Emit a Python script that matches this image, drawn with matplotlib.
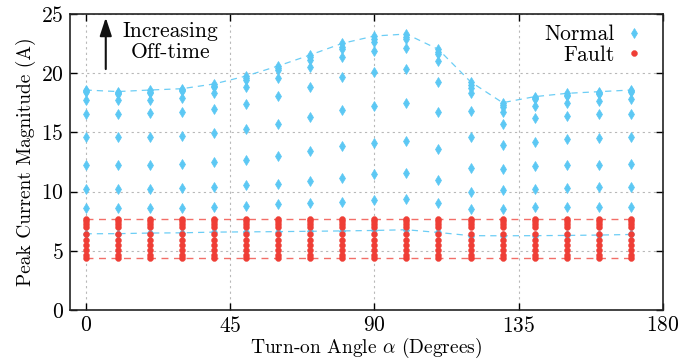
import matplotlib
matplotlib.use("Agg")
import matplotlib.pyplot as plt
import numpy as np

plt.rcParams['font.family'] = 'serif'
plt.rcParams['font.serif'] = ['cmr10']
plt.rcParams['mathtext.fontset'] = 'cm'
plt.rcParams['axes.formatter.use_mathtext'] = True

angles = [0, 10, 20, 30, 40, 50, 60, 70, 80, 90, 100, 110, 120, 130, 140, 150, 160, 170]

# Normal peak currents (A), one list per turn-on angle, increasing off-time
normal_0 = [18.58, 18.48, 18.41, 17.74, 16.55, 14.58, 12.28, 10.22, 8.59, 6.44]
normal_10 = [18.45, 18.35, 18.25, 17.70, 16.55, 14.58, 12.25, 10.22, 8.60, 6.45]
normal_20 = [18.58, 18.45, 18.30, 17.74, 16.60, 14.65, 12.28, 10.25, 8.60, 6.50]
normal_30 = [18.69, 18.60, 18.52, 17.93, 16.72, 14.70, 12.33, 10.30, 8.60, 6.52]
normal_40 = [19.09, 18.95, 18.81, 18.30, 17.00, 14.98, 12.47, 10.41, 8.67, 6.58]
normal_50 = [19.76, 19.60, 19.43, 18.81, 17.43, 15.26, 12.67, 10.53, 8.78, 6.60]
normal_60 = [20.61, 20.42, 20.27, 19.59, 18.07, 15.71, 13.03, 10.67, 8.92, 6.62]
normal_70 = [21.54, 21.34, 21.11, 20.55, 18.81, 16.33, 13.40, 10.92, 9.01, 6.65]
normal_80 = [22.52, 22.24, 22.01, 21.34, 19.65, 16.89, 13.85, 11.18, 9.15, 6.68]
normal_90 = [23.14, 22.86, 22.66, 21.90, 20.13, 17.26, 14.13, 11.46, 9.29, 6.72]
normal_100 = [23.31, 23.09, 22.86, 22.10, 20.35, 17.46, 14.30, 11.60, 9.40, 6.78]
normal_110 = [22.01, 21.82, 21.62, 21.03, 19.28, 16.75, 13.63, 11.01, 9.06, 6.55]
normal_120 = [19.28, 19.00, 18.72, 18.35, 16.81, 14.62, 12.00, 9.97, 8.50, 6.28]
normal_130 = [17.51, 17.31, 17.12, 16.75, 15.71, 13.94, 11.91, 10.11, 8.56, 6.27]
normal_140 = [18.02, 17.90, 17.82, 17.23, 16.19, 14.22, 12.13, 10.25, 8.67, 6.28]
normal_150 = [18.30, 18.20, 18.10, 17.51, 16.39, 14.42, 12.22, 10.33, 8.67, 6.30]
normal_160 = [18.44, 18.34, 18.24, 17.68, 16.55, 14.56, 12.28, 10.36, 8.72, 6.33]
normal_170 = [18.58, 18.48, 18.38, 17.79, 16.55, 14.58, 12.33, 10.42, 8.72, 6.38]

normal_values = [normal_0, normal_10, normal_20, normal_30, normal_40, normal_50,
                 normal_60, normal_70, normal_80, normal_90, normal_100, normal_110,
                 normal_120, normal_130, normal_140, normal_150, normal_160, normal_170]

# Fault peak currents (A), same at every angle
fault_levels = [7.68, 7.50, 7.30, 7.05, 6.45, 5.95, 5.50, 5.05, 4.65, 4.40]

xticks = [0, 45, 90, 135, 180]
yticks = [0, 5, 10, 15, 20, 25]

blue = '#5CC8F4'
red = '#EF3E36'

fig = plt.figure(figsize=(6.91, 3.62), dpi=100)
ax = fig.add_axes([0.1006, 0.1436, 0.8589, 0.8177])

# envelope lines
nmax = [max(v) for v in normal_values]
nmin = [min(v) for v in normal_values]
ax.plot(angles, nmax, ls=(0, (5, 4)), color=blue, lw=0.9, alpha=0.9, zorder=2)
ax.plot(angles, nmin, ls=(0, (5, 4)), color=blue, lw=0.9, alpha=0.9, zorder=2)
fmax = [max(fault_levels)] * len(angles)
fmin = [min(fault_levels)] * len(angles)
ax.plot(angles, fmax, ls=(0, (5, 4)), color=red, lw=1.0, alpha=0.75, zorder=2)
ax.plot(angles, fmin, ls=(0, (5, 4)), color=red, lw=1.0, alpha=0.75, zorder=2)

# points
for a, vals in zip(angles, normal_values):
    ax.plot([a] * len(vals), vals, ls='none', marker='d', ms=5.0, color=blue,
            mec=blue, mew=0.5, zorder=3)
for a in angles:
    ax.plot([a] * len(fault_levels), fault_levels, ls='none', marker='o', ms=4.3,
            color=red, mec=red, mew=0.3, zorder=4)

# legend handles
hn, = ax.plot([], [], ls='none', marker='d', ms=5.0, color=blue, mew=0.5, label='Normal')
hf, = ax.plot([], [], ls='none', marker='o', ms=4.3, color=red, mew=0.3, label='Fault')
leg = ax.legend(handles=[hn, hf], loc='upper right', bbox_to_anchor=(0.98, 1.0),
                frameon=False, markerfirst=False,
                fontsize=15.5, handlelength=0.6, handletextpad=0.6, labelspacing=0.05,
                borderaxespad=0.1)

ax.set_xlim(-5, 180)
ax.set_ylim(0, 25)
ax.set_xticks(xticks)
ax.set_yticks(yticks)
ax.grid(True, ls=(0, (2, 3)), color='#b8b8b8', lw=0.8)
ax.tick_params(direction='in', top=True, right=True, length=5, width=1, labelsize=15.5,
               pad=4)
for s in ax.spines.values():
    s.set_linewidth(1.2)
    s.set_color('#222222')

ax.set_xlabel(r'Turn-on Angle $\alpha$ (Degrees)', fontsize=14, labelpad=0)
ax.set_ylabel('Peak Current Magnitude (A)', fontsize=14, labelpad=4)

# annotation arrow and text
ax.annotate('', xy=(6.3, 24.7), xytext=(6.3, 20.35),
            arrowprops=dict(arrowstyle='-|>,head_length=1.1,head_width=0.36',
                            color='#111111', lw=1.5, shrinkA=0, shrinkB=0))
ax.text(26.5, 22.65, 'Increasing\nOff-time', ha='center', va='center',
        fontsize=15.5, linespacing=1.05)

fig.savefig('out.png', dpi=100)
